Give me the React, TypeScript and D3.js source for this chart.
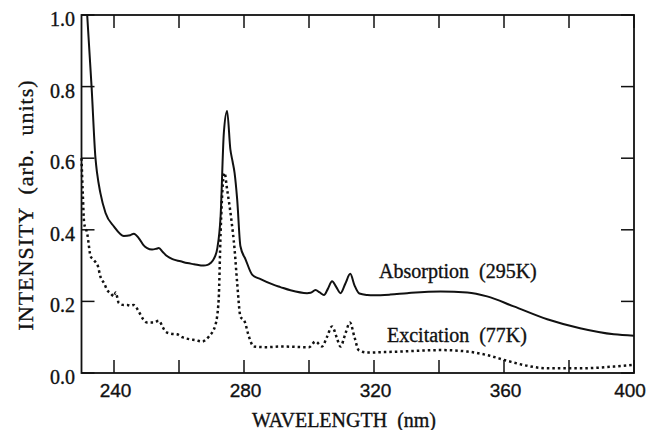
import React from "react";
import * as d3 from "d3";

const absWavelength = [231.75, 233.1, 234.3, 234.8, 235.8, 237.4, 240, 243, 245, 246.1, 247.6, 249, 250.2, 251.7, 253, 253.8, 255, 256.4, 258, 260.5, 262.5, 264.6, 267.6, 268.8, 269.7, 270.8, 271.8, 272.8, 273.8, 274.8, 275.8, 276.5, 277.1, 277.9, 278.9, 280.5, 282.5, 285.1, 289.2, 291.2, 294.3, 299.4, 300.5, 302, 303.3, 304.6, 305.8, 307.1, 308.4, 309.7, 311.2, 312.7, 314, 315.5, 317.9, 320, 325, 330.2, 340.5, 348.7, 354.8, 363, 373.3, 383.4, 393.8, 400];
const absIntensity = [1.0, 0.8, 0.6, 0.558, 0.503, 0.447, 0.409, 0.383, 0.385, 0.389, 0.377, 0.358, 0.349, 0.345, 0.347, 0.349, 0.338, 0.326, 0.318, 0.312, 0.307, 0.304, 0.3, 0.302, 0.307, 0.32, 0.349, 0.438, 0.671, 0.732, 0.625, 0.59, 0.559, 0.485, 0.354, 0.317, 0.275, 0.262, 0.246, 0.24, 0.231, 0.223, 0.224, 0.232, 0.225, 0.218, 0.235, 0.256, 0.24, 0.223, 0.25, 0.277, 0.245, 0.222, 0.218, 0.217, 0.219, 0.223, 0.228, 0.225, 0.214, 0.186, 0.15, 0.125, 0.108, 0.104];

const excWavelength = [230, 230.4, 230.8, 231.75, 232.8, 233.5, 234.3, 235, 235.8, 237, 237.9, 239, 240, 240.5, 241.5, 243, 244.1, 245, 246.1, 247.6, 249, 250.2, 252.2, 253.8, 255, 255.8, 257.5, 259.4, 261, 263.5, 265, 267.1, 269.2, 271.2, 272.2, 272.8, 273.6, 274, 274.8, 276.1, 277.1, 277.9, 278.9, 280.2, 281.5, 283, 287, 291.2, 300, 302, 304, 305.5, 307.1, 308.5, 309.7, 311.2, 312.6, 314, 315.3, 317.9, 322, 328.2, 340.5, 348.7, 354.8, 361, 367.2, 373.3, 383.4, 393.8, 400];
const excIntensity = [0.6, 0.5, 0.42, 0.39, 0.326, 0.318, 0.31, 0.3, 0.27, 0.25, 0.232, 0.222, 0.214, 0.225, 0.195, 0.19, 0.19, 0.188, 0.19, 0.172, 0.15, 0.141, 0.141, 0.146, 0.128, 0.116, 0.11, 0.108, 0.1, 0.094, 0.092, 0.088, 0.102, 0.134, 0.204, 0.391, 0.541, 0.559, 0.513, 0.429, 0.345, 0.251, 0.158, 0.144, 0.102, 0.074, 0.072, 0.074, 0.072, 0.088, 0.074, 0.1, 0.13, 0.1, 0.074, 0.11, 0.141, 0.1, 0.064, 0.057, 0.058, 0.06, 0.064, 0.06, 0.05, 0.034, 0.02, 0.013, 0.013, 0.018, 0.023];

const xTicks = [240, 260, 280, 300, 320, 340, 360, 380, 400];
const xTickLabels = ["240", "280", "320", "360", "400"];
const yTicks = [0, 0.2, 0.4, 0.6, 0.8, 1.0];
const yTickLabels = ["0.0", "0.2", "0.4", "0.6", "0.8", "1.0"];

const xTitle = "WAVELENGTH  (nm)";
const yTitle = "INTENSITY  (arb.  units)";
const absLabel = "Absorption  (295K)";
const excLabel = "Excitation  (77K)";

export default function App() {
  const L = 81.5, R = 634, T = 15, B = 373;
  const x = d3.scaleLinear().domain([230, 400]).range([L, R]);
  const y = d3.scaleLinear().domain([0, 1]).range([B, T]);
  const line = d3
    .line<[number, number]>()
    .x((d) => x(d[0]))
    .y((d) => y(d[1]))
    .curve(d3.curveMonotoneX);
  const absPts = absWavelength.map((w, i) => [w, absIntensity[i]] as [number, number]);
  const excPts = excWavelength.map((w, i) => [w, excIntensity[i]] as [number, number]);
  const tl = 13;
  const serif = "'Liberation Serif', 'Times New Roman', serif";
  const sans = "'Liberation Sans', Arial, sans-serif";
  const ink = "#111";
  const textStroke = { stroke: ink, strokeWidth: 0.35 };
  return (
    <svg
      width={647}
      height={430}
      style={{ position: "absolute", left: 0, top: 0, background: "#fff" }}
    >
      <rect x={0} y={0} width={647} height={430} fill="#fff" />
      <path d={line(excPts) || ""} fill="none" stroke={ink} strokeWidth={2.5} strokeDasharray="2.5 3" />
      <path d={line(absPts) || ""} fill="none" stroke={ink} strokeWidth={2} />
      <rect x={L} y={T} width={R - L} height={B - T} fill="none" stroke={ink} strokeWidth={1.8} />
      {xTicks.map((t) => (
        <g key={"xt" + t}>
          <line x1={x(t)} x2={x(t)} y1={B} y2={B - tl} stroke={ink} strokeWidth={1.5} />
          <line x1={x(t)} x2={x(t)} y1={T} y2={T + tl} stroke={ink} strokeWidth={1.5} />
        </g>
      ))}
      {yTicks.map((t) => (
        <g key={"yt" + t}>
          <line x1={L} x2={L + tl} y1={y(t)} y2={y(t)} stroke={ink} strokeWidth={1.5} />
          <line x1={R} x2={R - tl} y1={y(t)} y2={y(t)} stroke={ink} strokeWidth={1.5} />
        </g>
      ))}
      {xTickLabels.map((s) => (
        <text
          key={"xl" + s}
          x={Math.min(x(+s) + 1.5, 630)}
          y={397}
          textAnchor="middle"
          fontFamily={sans}
          fontSize={19}
          fill={ink}
          {...textStroke}
        >
          {s}
        </text>
      ))}
      {yTickLabels.map((s) => (
        <text key={"yl" + s} x={75} y={y(+s) + 11} textAnchor="end" fontFamily={serif} fontSize={20} fill={ink} {...textStroke}>
          {s}
        </text>
      ))}
      <text x={344} y={427} textAnchor="middle" fontFamily={serif} fontSize={20} fill={ink} style={{ whiteSpace: "pre" }} {...textStroke}>
        {xTitle}
      </text>
      <text
        transform={`translate(33,205) rotate(-90)`}
        textAnchor="middle"
        fontFamily={serif}
        fontSize={22}
        letterSpacing={1}
        fill={ink}
        style={{ whiteSpace: "pre" }}
        {...textStroke}
      >
        {yTitle}
      </text>
      <text x={379} y={278} fontFamily={serif} fontSize={20} fill={ink} style={{ whiteSpace: "pre" }} {...textStroke}>
        {absLabel}
      </text>
      <text x={387} y={342} fontFamily={serif} fontSize={20} fill={ink} style={{ whiteSpace: "pre" }} {...textStroke}>
        {excLabel}
      </text>
    </svg>
  );
}
